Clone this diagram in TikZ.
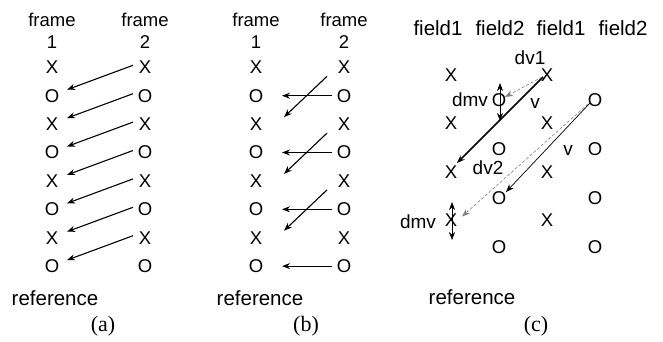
\documentclass[tikz,border=0pt]{standalone}
\usepackage{fontspec}
\setmainfont{Liberation Sans}
\newfontfamily\capfont{Liberation Serif}
\usetikzlibrary{arrows.meta}

\begin{document}
\begin{tikzpicture}[x=1pt, y=-1pt,
    sym/.style={font=\fontsize{18.5}{18}\selectfont, inner sep=1pt},
    hdr/.style={font=\fontsize{18.5}{19}\selectfont, inner sep=0pt},
    lab/.style={font=\fontsize{19}{19}\selectfont, inner sep=0pt},
    fld/.style={font=\fontsize{20.5}{21}\selectfont, inner sep=0pt},
    subcap/.style={font=\capfont\fontsize{22}{22}\selectfont, inner sep=0pt},
    arr/.style={-{Stealth[length=8pt,width=6pt]}, line width=1.1pt},
    thinarr/.style={-{Stealth[length=8pt,width=6pt]}, line width=0.7pt},
    dsharr/.style={-{Stealth[length=8pt,width=6pt]}, line width=0.6pt, gray, densely dashed},
    dblarr/.style={{Stealth[length=8pt,width=6pt]}-{Stealth[length=8pt,width=6pt]}, line width=0.6pt},
  ]
  \useasboundingbox (0,0) rectangle (663,341);

  % (a) 帧预测
  \node[hdr] (fa1) at (52,20) {frame};
  \node[hdr] (fa2) at (145,20) {frame};
  \node[hdr] (na1) at (52,42) {1};
  \node[hdr] (na2) at (145,42) {2};
  \foreach \i/\s in {1/X,2/O,3/X,4/O,5/X,6/O,7/X,8/O} {
    \node[sym] (al-\i) at (52,{67.3+28.4*(\i-1)}) {\s};
    \node[sym] (ar-\i) at (145,{67.3+28.4*(\i-1)}) {\s};
  }
  \foreach \i [evaluate=\i as \j using int(\i+1)] in {1,...,7}
    \draw[arr] ([xshift=-12pt,yshift=2pt]ar-\i.center) -- ([xshift=15pt,yshift=6pt]al-\j.center);
  \node[fld] (ra) at (55,298) {reference};
  \node[subcap] (ca) at (103,326) {(a)};

  % (b) 场预测
  \node[hdr] (fb1) at (256,20) {frame};
  \node[hdr] (fb2) at (344,20) {frame};
  \node[hdr] (nb1) at (256,42) {1};
  \node[hdr] (nb2) at (344,42) {2};
  \foreach \i/\s in {1/X,2/O,3/X,4/O,5/X,6/O,7/X,8/O} {
    \node[sym] (bl-\i) at (256,{67.3+28.4*(\i-1)}) {\s};
    \node[sym] (br-\i) at (344,{67.3+28.4*(\i-1)}) {\s};
  }
  \foreach \i in {2,4,6,8}
    \draw[arr] ([xshift=-12pt]br-\i.center) -- ([xshift=26pt]bl-\i.center);
  \foreach \i [evaluate=\i as \j using int(\i+2)] in {1,3,5}
    \draw[arr] ([xshift=-17pt,yshift=-9pt]br-\i.center) -- ([xshift=28pt,yshift=7pt]bl-\j.center);
  \node[fld] (rb) at (260,298) {reference};
  \node[subcap] (cb) at (306,326) {(b)};

  % (c) 双基场预测
  \node[fld] (fc1) at (438,28) {field1};
  \node[fld] (fc2) at (500,28) {field2};
  \node[fld] (fc3) at (561,28) {field1};
  \node[fld] (fc4) at (623,28) {field2};
  \foreach \k in {1,...,4} {
    \node[sym] (c1-\k) at (451,{75+48.5*(\k-1)}) {X};
    \node[sym] (c2-\k) at (499,{100+49*(\k-1)}) {O};
    \node[sym] (c3-\k) at (547,{75+48.5*(\k-1)}) {X};
    \node[sym] (c4-\k) at (595,{100+49*(\k-1)}) {O};
  }
  \draw[arr, line width=1.6pt] ([xshift=-4pt,yshift=-2pt]c3-1.center) -- ([xshift=6pt,yshift=9pt]c1-3.center);
  \draw[dsharr] ([xshift=-5pt,yshift=-2pt]c3-1.center) -- ([xshift=6pt,yshift=3pt]c2-1.center);
  \draw[thinarr] ([xshift=-5pt,yshift=-3pt]c4-1.center) -- ([xshift=7pt,yshift=6pt]c2-3.center);
  \draw[dsharr] ([xshift=-7pt,yshift=-4pt]c4-1.center) -- ([xshift=11pt,yshift=4pt]c1-4.center);
  \draw[dblarr] ([xshift=1pt,yshift=17pt]c2-1.center) -- ([xshift=1pt,yshift=-21pt]c2-1.center);
  \draw[dblarr] ([xshift=1pt,yshift=18.5pt]c1-4.center) -- ([xshift=1pt,yshift=-19.5pt]c1-4.center);
  \node[lab] (dv1) at (530,58) {dv1};
  \node[lab] (dmv1) at (470,100) {dmv};
  \node[lab] (v1) at (535,103) {v};
  \node[lab] (v2) at (568,150) {v};
  \node[lab] (dv2) at (488,168) {dv2};
  \node[lab] (dmv2) at (418,222) {dmv};
  \node[fld] (rc) at (472,297) {reference};
  \node[subcap] (cc) at (536,326) {(c)};
\end{tikzpicture}
\end{document}
